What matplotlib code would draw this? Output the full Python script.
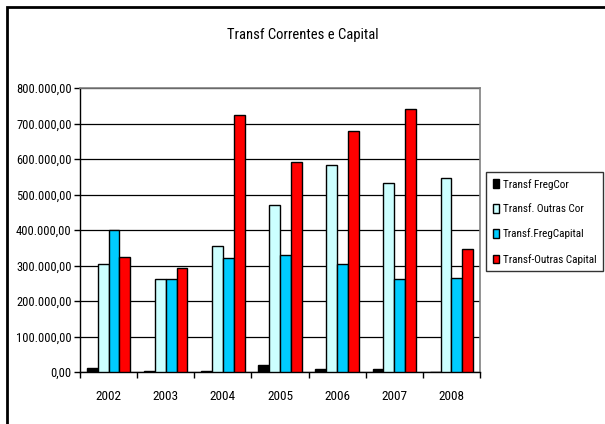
import numpy as np
import matplotlib
matplotlib.use("Agg")
import matplotlib.pyplot as plt
from matplotlib.patches import Rectangle
from matplotlib.ticker import FuncFormatter, MultipleLocator

# condensed look like the original; falls back to plain DejaVu if missing
plt.rcParams["font.family"] = ["Roboto Condensed", "Liberation Sans Narrow", "DejaVu Sans"]
plt.rcParams["font.stretch"] = "condensed"

years = ["2002", "2003", "2004", "2005", "2006", "2007", "2008"]
freg_cor = [12000, 3000, 3000, 20000, 8000, 8000, 0]
outras_cor = [304000, 262000, 355000, 470000, 584000, 533000, 546000]
freg_capital = [400000, 262000, 320000, 330000, 305000, 262000, 266000]
outras_capital = [325000, 292000, 725000, 592000, 680000, 741000, 347000]

series = [
    ("Transf FregCor", freg_cor, "#000000"),
    ("Transf. Outras Cor", outras_cor, "#CCFFFF"),
    ("Transf.FregCapital", freg_capital, "#00CCFF"),
    ("Transf-Outras Capital", outras_capital, "#FF0000"),
]


def fmt_pt(v, pos):
    s = f"{v:,.2f}"
    return s.replace(",", "X").replace(".", ",").replace("X", ".")


fig = plt.figure(figsize=(6.05, 4.24), dpi=100)
ax = fig.add_axes([80 / 605, 1 - 372 / 424, 400 / 605, 284 / 424])

# outer chart frame (only left and top are visible in the image)
fig.patches.append(Rectangle((7 / 605, -0.1), 1.2, 1.1 - 7 / 424, transform=fig.transFigure,
                             fill=False, edgecolor="black", linewidth=2))

x = np.arange(len(years))
w = 0.19
for i, (name, vals, col) in enumerate(series):
    ax.bar(x + (i - 1.5) * w, vals, width=w, color=col, edgecolor="black",
           linewidth=1.0, label=name, zorder=3)

ax.set_xlim(-0.5, len(years) - 0.5)
ax.set_ylim(0, 800000)
ax.yaxis.set_major_locator(MultipleLocator(100000))
ax.yaxis.set_major_formatter(FuncFormatter(fmt_pt))
ax.grid(axis="y", color="black", linewidth=0.9, zorder=0)

ax.set_xticks(x)
ax.set_xticklabels(years)
ax.set_xticks(np.arange(len(years) + 1) - 0.5, minor=True)
ax.tick_params(axis="x", which="major", length=0, pad=13, labelsize=9.5)
ax.tick_params(axis="x", which="minor", length=4, direction="out", width=1)
ax.tick_params(axis="y", length=4, direction="out", width=1, labelsize=9, pad=2)

for side in ["top", "right"]:
    ax.spines[side].set_color("#808080")
    ax.spines[side].set_linewidth(1.2)
for side in ["left", "bottom"]:
    ax.spines[side].set_linewidth(1.0)

fig.text(0.5, 1 - 35 / 424, "Transf Correntes e Capital", ha="center", va="center",
         fontsize=10.5)

leg = fig.legend(loc="upper right", bbox_to_anchor=(603 / 605, 1 - 172 / 424),
                 fontsize=8, frameon=True, fancybox=False, handlelength=0.6,
                 handleheight=0.8, handletextpad=0.3, labelspacing=1.3,
                 borderpad=0.6, borderaxespad=0)
leg.get_frame().set_edgecolor("black")
leg.get_frame().set_linewidth(1.0)

fig.savefig("out.png", dpi=100)
